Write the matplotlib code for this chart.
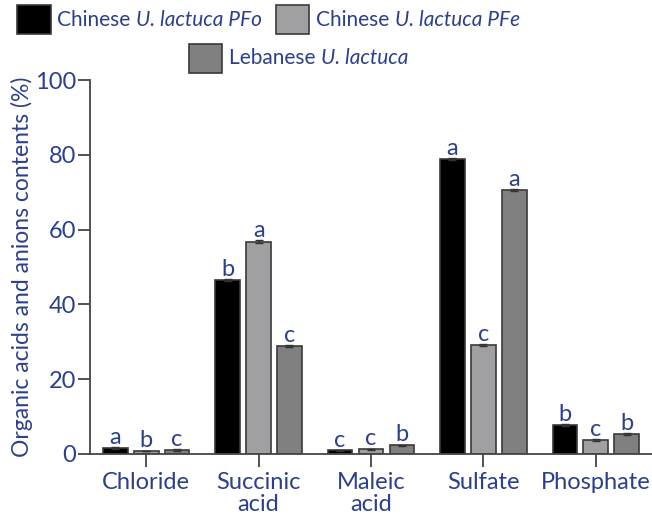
import matplotlib.pyplot as plt
import numpy as np
from matplotlib.patches import Rectangle
from matplotlib.offsetbox import HPacker, TextArea, DrawingArea, AnchoredOffsetbox

plt.rcParams['font.family'] = ['Lato', 'DejaVu Sans']

categories = ["Chloride", "Succinic\nacid", "Maleic\nacid", "Sulfate", "Phosphate"]
# legend labels: plain part, italic part
series_plain = ["Chinese ", "Chinese ", "Lebanese "]
series_italic = ["U. lactuca PFo", "U. lactuca PFe", "U. lactuca"]
pfo = [1.6, 46.5, 1.0, 78.9, 7.7]
pfe = [0.8, 56.7, 1.2, 29.1, 3.7]
leb = [1.1, 28.9, 2.3, 70.6, 5.4]
pfo_err = [0.2, 0.3, 0.1, 0.3, 0.2]
pfe_err = [0.1, 0.4, 0.2, 0.3, 0.3]
leb_err = [0.2, 0.3, 0.2, 0.3, 0.2]
pfo_grp = ["a", "b", "c", "a", "b"]
pfe_grp = ["b", "a", "c", "c", "c"]
leb_grp = ["c", "c", "b", "a", "b"]

blue = "#2b3f8f"
colors = ["#000000", "#a0a0a2", "#808080"]
edge = "#3a3a3a"

fig = plt.figure(figsize=(6.52, 5.2), dpi=100)
ax = fig.add_axes([0.138, 0.127, 0.862, 0.719])

x = np.arange(len(categories))
w = 0.22
step = 0.275
for i, (vals, errs, grp) in enumerate([(pfo, pfo_err, pfo_grp),
                                       (pfe, pfe_err, pfe_grp),
                                       (leb, leb_err, leb_grp)]):
    xs = x + (i - 1) * step
    ax.bar(xs, vals, width=w, color=colors[i], edgecolor=edge, linewidth=1.2,
           yerr=errs, error_kw=dict(ecolor="#333333", elinewidth=1, capsize=3, capthick=1))
    for xi, v, e, g in zip(xs, vals, errs, grp):
        ax.text(xi, v + e - 0.2, g, ha="center", va="bottom", fontsize=17, color=blue)

ax.set_xlim(-0.5, 4.5)
ax.set_ylim(0, 100)
ax.set_yticks(np.arange(0, 101, 20))
ax.set_xticks(x)
ax.set_xticklabels(categories, fontsize=17, color=blue, linespacing=1.05)
ax.tick_params(axis="y", labelsize=17, labelcolor=blue, length=9, width=1.3, color="#444444", pad=1)
ax.tick_params(axis="x", length=9, width=1.3, color="#444444", pad=4)
for s in ["top", "right"]:
    ax.spines[s].set_visible(False)
for s in ["left", "bottom"]:
    ax.spines[s].set_color("#444444")
    ax.spines[s].set_linewidth(1.3)
ax.set_ylabel("Organic acids and anions contents (%)", fontsize=16.5, color=blue, labelpad=1)


# legend entries built by hand so the species name can be italic
def legend_entry(color, plain, italic):
    da = DrawingArea(24, 21)
    da.add_artist(Rectangle((0, 0), 24, 21, facecolor=color, edgecolor=edge, linewidth=1.2))
    t1 = TextArea(plain, textprops=dict(color=blue, fontsize=15))
    t2 = TextArea(italic, textprops=dict(color=blue, fontsize=15, style="italic"))
    return HPacker(children=[da, HPacker(children=[t1, t2], sep=0, align="baseline")],
                   sep=5, align="center")


entries = [legend_entry(c, p, it) for c, p, it in zip(colors, series_plain, series_italic)]
row1 = HPacker(children=entries[:2], sep=10, align="center")
box1 = AnchoredOffsetbox(loc="center", child=row1, frameon=False, pad=0, borderpad=0,
                         bbox_to_anchor=(0.412, 0.962), bbox_transform=fig.transFigure)
box2 = AnchoredOffsetbox(loc="center", child=entries[2], frameon=False, pad=0, borderpad=0,
                         bbox_to_anchor=(0.458, 0.888), bbox_transform=fig.transFigure)
fig.add_artist(box1)
fig.add_artist(box2)

fig.savefig("out.png", dpi=100)
